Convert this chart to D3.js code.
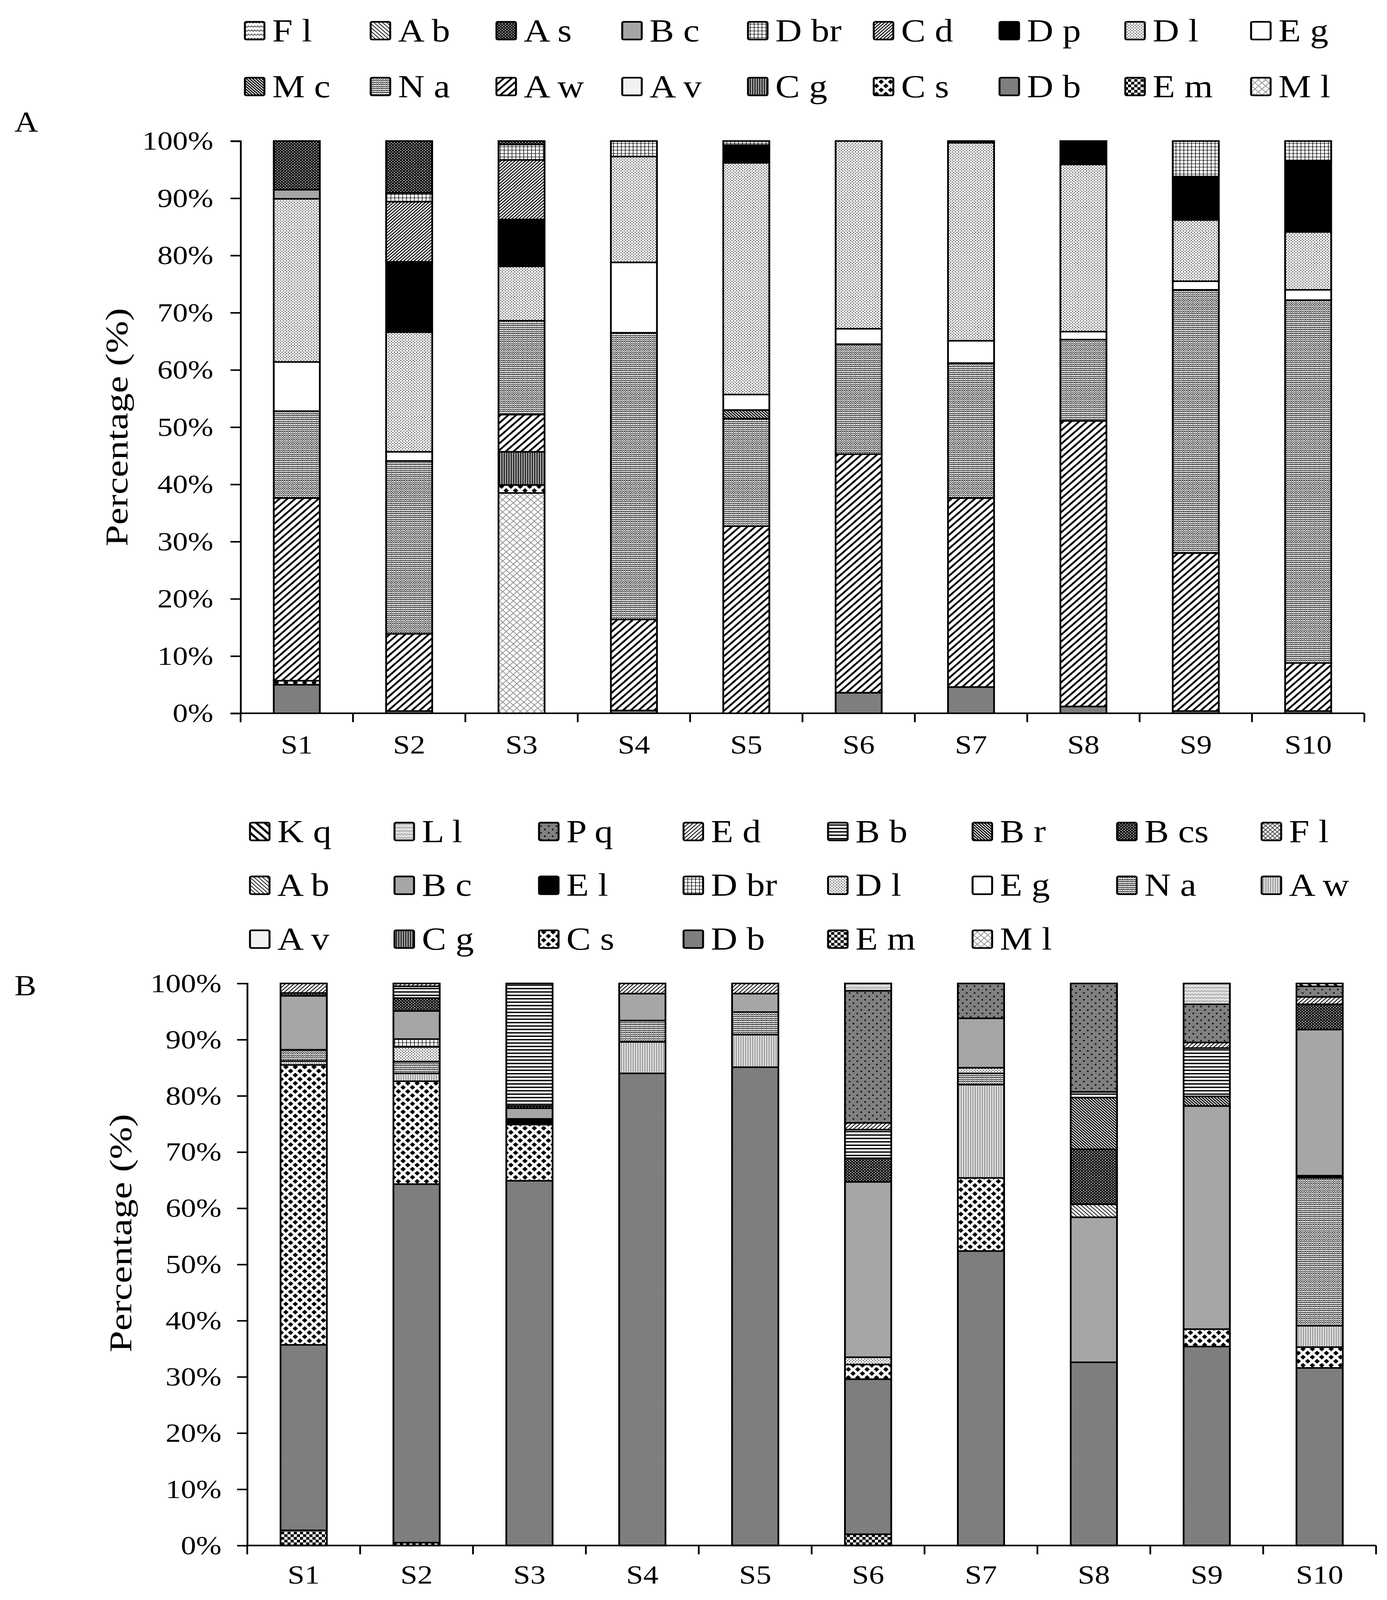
<!DOCTYPE html>
<html>
<head>
<meta charset="utf-8">
<script src="https://cdn.jsdelivr.net/npm/d3@7"></script>
<style>
  html, body { margin: 0; padding: 0; background: #fff; overflow: hidden; }
  svg { display: block; width: 100vw; height: 100vh; }
  text { font-family: "Liberation Serif", "Times New Roman", serif; fill: #000; }
</style>
</head>
<body>
<svg id="chart"></svg>
<script>
// ---------------- DATA ----------------
const categories = ["S1","S2","S3","S4","S5","S6","S7","S8","S9","S10"];
const yTickValues = [0,10,20,30,40,50,60,70,80,90,100];

// Panel A — stacking order bottom -> top
const seriesA = ["Ml","Em","Db","Cs","Cg","Av","Aw","Na","Mc","Eg","Dl","Dp","Cd","Dbr","Bc","As","Ab","Fl"];
const legendA = [["Fl","Ab","As","Bc","Dbr","Cd","Dp","Dl","Eg"],["Mc","Na","Aw","Av","Cg","Cs","Db","Em","Ml"]];
const aMl  = [0,0,38.5,0,0,0,0,0,0,0];
const aEm  = [0,0,0,0,0,0,0,0,0,0];
const aDb  = [5.0,0.4,0,0.5,0,3.6,4.6,1.2,0.4,0.4];
const aCs  = [0.7,0,1.4,0,0,0,0,0,0,0];
const aCg  = [0,0,5.8,0,0,0,0,0,0,0];
const aAv  = [0,0,0,0,0,0,0,0,0,0];
const aAw  = [31.9,13.5,6.5,15.9,32.7,41.7,33.0,49.9,27.6,8.4];
const aNa  = [15.2,30.2,16.4,50.1,18.8,19.2,23.6,14.2,46.0,63.4];
const aMc  = [0,0,0,0,1.5,0,0,0,0,0];
const aEg  = [8.6,1.6,0,12.3,2.7,2.7,3.9,1.4,1.5,1.8];
const aDl  = [28.5,20.9,9.5,18.5,40.5,32.8,34.6,29.2,10.7,10.1];
const aDp  = [0,12.3,8.2,0,3.1,0,0.3,4.1,7.6,12.5];
const aCd  = [0,10.5,10.4,0,0,0,0,0,0,0];
const aDbr = [0,1.5,2.7,2.7,0.7,0,0,0,6.2,3.4];
const aBc  = [1.6,0,0,0,0,0,0,0,0,0];
const aAs  = [8.5,9.1,0.6,0,0,0,0,0,0,0];
const aAb  = [0,0,0,0,0,0,0,0,0,0];
const aFl  = [0,0,0,0,0,0,0,0,0,0];

// Panel B — stacking order bottom -> top
const seriesB = ["Ml","Em","Db","Cs","Cg","Av","Aw","Na","Eg","Dl","Dbr","El","Bc","Ab","Fl","Bcs","Br","Bb","Ed","Pq","Ll","Kq"];
const legendB = [["Kq","Ll","Pq","Ed","Bb","Br","Bcs","Fl"],["Ab","Bc","El","Dbr","Dl","Eg","Na","Aw"],["Av","Cg","Cs","Db","Em","Ml"]];
const bMl  = [0,0,0,0,0,0,0,0,0,0];
const bEm  = [2.7,0.5,0,0,0,2.0,0,0,0,0];
const bDb  = [33.0,63.8,64.9,84.0,85.1,27.6,52.4,32.6,35.4,31.6];
const bCs  = [49.8,18.3,10.0,0,0,2.6,13.0,0,3.1,3.7];
const bCg  = [0,0,0,0,0,0,0,0,0,0];
const bAv  = [0,0,0,0,0,0,0,0,0,0];
const bAw  = [0.7,1.4,0,5.6,5.8,0,16.6,0,0,3.8];
const bNa  = [2.0,2.1,0,3.8,4.0,0,2.0,0,0,26.3];
const bEg  = [0,0,0,0,0,0,0,0,0,0];
const bDl  = [0,2.6,0,0,0,1.3,1.0,0,0,0];
const bDbr = [0,1.4,0,0,0,0,0,0,0,0];
const bEl  = [0,0,1.0,0,0,0,0,0,0,0.4];
const bBc  = [9.6,5.0,1.9,4.8,3.3,31.2,8.8,25.8,39.7,26.0];
const bAb  = [0,0,0,0,0,0,0,2.3,0,0];
const bFl  = [0,0,0,0,0,0,0,0,0,0];
const bBcs = [0.5,2.3,0.4,0,0,4.2,0,9.8,0,4.5];
const bBr  = [0,0,0,0,0,0,0,9.2,1.7,0];
const bBb  = [0,2.1,21.8,0,0,5.1,0,1.0,8.6,0];
const bEd  = [1.7,0.5,0,1.8,1.8,1.2,0,0,1.0,1.3];
const bPq  = [0,0,0,0,0,23.5,6.2,19.3,6.8,1.9];
const bLl  = [0,0,0,0,0,1.3,0,0,3.7,0];
const bKq  = [0,0,0,0,0,0,0,0,0,0.5];

const valuesA = {Ml:aMl,Em:aEm,Db:aDb,Cs:aCs,Cg:aCg,Av:aAv,Aw:aAw,Na:aNa,Mc:aMc,Eg:aEg,Dl:aDl,Dp:aDp,Cd:aCd,Dbr:aDbr,Bc:aBc,As:aAs,Ab:aAb,Fl:aFl};
const valuesB = {Ml:bMl,Em:bEm,Db:bDb,Cs:bCs,Cg:bCg,Av:bAv,Aw:bAw,Na:bNa,Eg:bEg,Dl:bDl,Dbr:bDbr,El:bEl,Bc:bBc,Ab:bAb,Fl:bFl,Bcs:bBcs,Br:bBr,Bb:bBb,Ed:bEd,Pq:bPq,Ll:bLl,Kq:bKq};

// fill pattern per series
const fillA = {Fl:"zigzag",Ab:"fineDown",As:"darkDots",Bc:"#A6A6A6",Dbr:"smallGrid",Cd:"denseUp",Dp:"#000000",Dl:"lightDots",Eg:"#FFFFFF",
               Mc:"denseDown",Na:"naPat",Aw:"wideUp",Av:"#F2F2F2",Cg:"vertLines",Cs:"diamonds",Db:"dbLines",Em:"checker",Ml:"lattice"};
const fillB = {Kq:"wideDown",Ll:"wave",Pq:"pqDots",Ed:"fineUp",Bb:"hStripes",Br:"denseDown",Bcs:"darkDots",Fl:"crossHatch",
               Ab:"fineDown",Bc:"#A6A6A6",El:"#000000",Dbr:"smallGrid",Dl:"lightDots",Eg:"#FFFFFF",Na:"naPat",Aw:"awB",
               Av:"#F2F2F2",Cg:"vertLines",Cs:"diamonds",Db:"dbLines",Em:"checker",Ml:"lattice"};

// ---------------- SETUP ----------------
const W = 3551, H = 4697;
const svg = d3.select("#chart").attr("viewBox", `0 0 ${W} ${H}`).attr("preserveAspectRatio", "none");
svg.append("rect").attr("width", W).attr("height", H).attr("fill", "#fff");
const defs = svg.append("defs");

function pat(id, w, h, bg) {
  const p = defs.append("pattern").attr("id", id).attr("patternUnits", "userSpaceOnUse")
    .attr("width", w).attr("height", h);
  p.append("rect").attr("width", w).attr("height", h).attr("fill", bg);
  return p;
}
function upPath(s){ return `M0,${s} L${s},0 M${-s/4},${s/4} L${s/4},${-s/4} M${3*s/4},${5*s/4} L${5*s/4},${3*s/4}`; }
function downPath(s){ return `M0,0 L${s},${s} M${-s/4},${3*s/4} L${s/4},${5*s/4} M${3*s/4},${-s/4} L${5*s/4},${s/4}`; }
function linePat(id, s, dir, color, width, bg) {
  const p = pat(id, s, s, bg);
  p.append("path").attr("d", dir === "up" ? upPath(s) : downPath(s)).attr("stroke", color).attr("stroke-width", width).attr("fill","none");
  return p;
}
linePat("wideUp", 20, "up", "#000", 5, "#fff");
linePat("wideDown", 22, "down", "#000", 6, "#fff");
linePat("fineUp", 11, "up", "#000", 2.2, "#fff");
linePat("denseUp", 9, "up", "#000", 2.6, "#fff");
linePat("fineDown", 11, "down", "#000", 2.0, "#fff");
linePat("denseDown", 8, "down", "#000", 3.2, "#fff");
{ const p = pat("lattice", 18, 18, "#fff");
  p.append("path").attr("d", upPath(18) + " " + downPath(18)).attr("stroke", "#8c8c8c").attr("stroke-width", 2).attr("fill","none"); }
{ const p = pat("crossHatch", 12, 12, "#fff");
  p.append("path").attr("d", upPath(12) + " " + downPath(12)).attr("stroke", "#333").attr("stroke-width", 1.8).attr("fill","none"); }
{ const p = pat("darkDots", 8, 8, "#000");
  p.append("circle").attr("cx", 2).attr("cy", 2).attr("r", 1.5).attr("fill", "#fff");
  p.append("circle").attr("cx", 6).attr("cy", 6).attr("r", 1.5).attr("fill", "#fff"); }
{ const p = pat("lightDots", 8, 8, "#fff");
  p.append("circle").attr("cx", 2).attr("cy", 2).attr("r", 1.3).attr("fill", "#000");
  p.append("circle").attr("cx", 6).attr("cy", 6).attr("r", 1.3).attr("fill", "#000"); }
{ const p = pat("naPat", 12, 12, "#fff");
  p.append("path").attr("d", "M0,3 L3,0 L6,3 L9,0 L12,3 M0,9 L3,6 L6,9 L9,6 L12,9").attr("stroke", "#000").attr("stroke-width", 1.9).attr("fill","none"); }
{ const p = pat("smallGrid", 10, 10, "#fff");
  p.append("path").attr("d", "M0,0 L10,0 M0,0 L0,10").attr("stroke", "#000").attr("stroke-width", 3).attr("fill","none"); }
{ const p = pat("vertLines", 6, 6, "#9a9a9a");
  p.append("rect").attr("x", 0).attr("y", 0).attr("width", 2).attr("height", 6).attr("fill", "#000"); }
{ const p = pat("awB", 6, 6, "#dcdcdc");
  p.append("rect").attr("x", 0).attr("y", 0).attr("width", 2).attr("height", 6).attr("fill", "#8a8a8a"); }
{ const p = pat("dbLines", 4, 4, "#8a8a8a");
  p.append("rect").attr("x", 0).attr("y", 0).attr("width", 4).attr("height", 1.5).attr("fill", "#6a6a6a"); }
{ const p = pat("hStripes", 10, 10, "#fff");
  p.append("rect").attr("x", 0).attr("y", 0).attr("width", 10).attr("height", 4).attr("fill", "#000"); }
{ const p = pat("checker", 16, 16, "#fff");
  p.append("rect").attr("x", 0).attr("y", 0).attr("width", 8).attr("height", 8).attr("fill", "#000");
  p.append("rect").attr("x", 8).attr("y", 8).attr("width", 8).attr("height", 8).attr("fill", "#000"); }
{ const p = pat("diamonds", 24, 24, "#fff");
  const dm = (cx, cy, r) => `M${cx},${cy-r} L${cx+r},${cy} L${cx},${cy+r} L${cx-r},${cy} Z`;
  p.append("path").attr("d", [dm(12,12,7), dm(0,0,7), dm(24,0,7), dm(0,24,7), dm(24,24,7)].join(" ")).attr("fill", "#000"); }
{ const p = pat("pqDots", 20, 20, "#808080");
  p.append("circle").attr("cx", 5).attr("cy", 5).attr("r", 2.3).attr("fill", "#000");
  p.append("circle").attr("cx", 15).attr("cy", 15).attr("r", 2.3).attr("fill", "#000"); }
{ const p = pat("zigzag", 16, 12, "#fff");
  p.append("path").attr("d", "M0,8 L4,4 L8,8 L12,4 L16,8").attr("stroke", "#555").attr("stroke-width", 2.4).attr("fill","none"); }
{ const p = pat("wave", 16, 10, "#bdbdbd");
  p.append("path").attr("d", "M0,6 L4,3 L8,6 L12,3 L16,6").attr("stroke", "#fff").attr("stroke-width", 2.2).attr("fill","none"); }

function fillOf(v) { return v.startsWith("#") ? v : `url(#${v})`; }
function label(n) { return n[0] + " " + n.slice(1); }

// ---------------- PANEL DRAWING ----------------
function drawPanel(cfg) {
  const { series, values, fills, x0, x1, yTop, yBot, letter, letterY, titleX, titleY, labelGap, catGap } = cfg;
  const g = svg.append("g");
  const x = d3.scaleBand().domain(categories).range([x0, x1]).paddingInner(0.59).paddingOuter(0.295);
  const y = d3.scaleLinear().domain([0, 100]).range([yBot, yTop]);

  const rows = categories.map((c, i) => {
    const r = { cat: c };
    series.forEach(s => r[s] = values[s][i]);
    return r;
  });
  const stacked = d3.stack().keys(series)(rows);

  const layers = g.append("g").selectAll("g").data(stacked).join("g")
    .attr("fill", d => fillOf(fills[d.key]));
  layers.selectAll("rect").data(d => d.filter(e => e[1] - e[0] > 0.001)).join("rect")
    .attr("x", d => x(d.data.cat))
    .attr("width", x.bandwidth())
    .attr("y", d => y(d[1]))
    .attr("height", d => y(d[0]) - y(d[1]))
    .attr("stroke", "#000").attr("stroke-width", 4.5);

  // y axis
  const yAxis = d3.axisLeft(y).tickValues(yTickValues).tickFormat(d => d + "%").tickSize(26).tickPadding(labelGap);
  const ya = g.append("g").attr("transform", `translate(${x0},0)`).call(yAxis);
  ya.select(".domain").attr("stroke", "#000").attr("stroke-width", 4.5);
  ya.selectAll(".tick line").attr("stroke", "#000").attr("stroke-width", 4.5);
  ya.selectAll(".tick text").attr("font-size", 78).attr("font-family", "Liberation Serif").attr("fill", "#000");

  // x axis (Excel style: ticks between categories)
  const step = x.step();
  const xa = g.append("g");
  xa.append("line").attr("x1", x0).attr("x2", x1).attr("y1", yBot).attr("y2", yBot)
    .attr("stroke", "#000").attr("stroke-width", 4.5);
  xa.selectAll("line.tk").data(d3.range(categories.length + 1)).join("line").attr("class", "tk")
    .attr("x1", i => x.range()[0] + i * step).attr("x2", i => x.range()[0] + i * step)
    .attr("y1", yBot).attr("y2", yBot + 26).attr("stroke", "#000").attr("stroke-width", 4.5);
  xa.selectAll("text").data(categories).join("text")
    .attr("x", d => x(d) + x.bandwidth() / 2).attr("y", yBot + catGap)
    .attr("text-anchor", "middle").attr("font-size", 78).text(d => d);

  // y title
  g.append("text").attr("transform", `translate(${titleX},${titleY}) rotate(-90)`)
    .attr("text-anchor", "middle").attr("font-size", 80)
    .attr("textLength", 700).attr("lengthAdjust", "spacingAndGlyphs")
    .text("Percentage (%)");

  // panel letter
  g.append("text").attr("x", 37).attr("y", letterY).attr("font-size", 84).text(letter);
}

function drawLegend(rowsArr, fills, bx0, dx, by0, dy) {
  const g = svg.append("g");
  rowsArr.forEach((row, ri) => {
    row.forEach((name, ci) => {
      const bx = bx0 + ci * dx, by = by0 + ri * dy;
      g.append("rect").attr("x", bx).attr("y", by).attr("width", 50).attr("height", 52)
        .attr("rx", 4).attr("fill", fillOf(fills[name])).attr("stroke", "#000").attr("stroke-width", 5);
      g.append("text").attr("x", bx + 70).attr("y", by + 57).attr("font-size", 94).text(label(name));
    });
  });
}

drawLegend(legendA, fillA, 627, 322, 64, 164);
drawPanel({ series: seriesA, values: valuesA, fills: fillA, x0: 616, x1: 3493, yTop: 414, yBot: 2094,
            letter: "A", letterY: 387, titleX: 326, titleY: 1254, labelGap: 44, catGap: 118 });

drawLegend(legendB, fillB, 640, 370, 2415, 158);
drawPanel({ series: seriesB, values: valuesB, fills: fillB, x0: 633, x1: 3523, yTop: 2887, yBot: 4537,
            letter: "B", letterY: 2922, titleX: 336, titleY: 3620, labelGap: 40, catGap: 112 });
</script>
</body>
</html>
